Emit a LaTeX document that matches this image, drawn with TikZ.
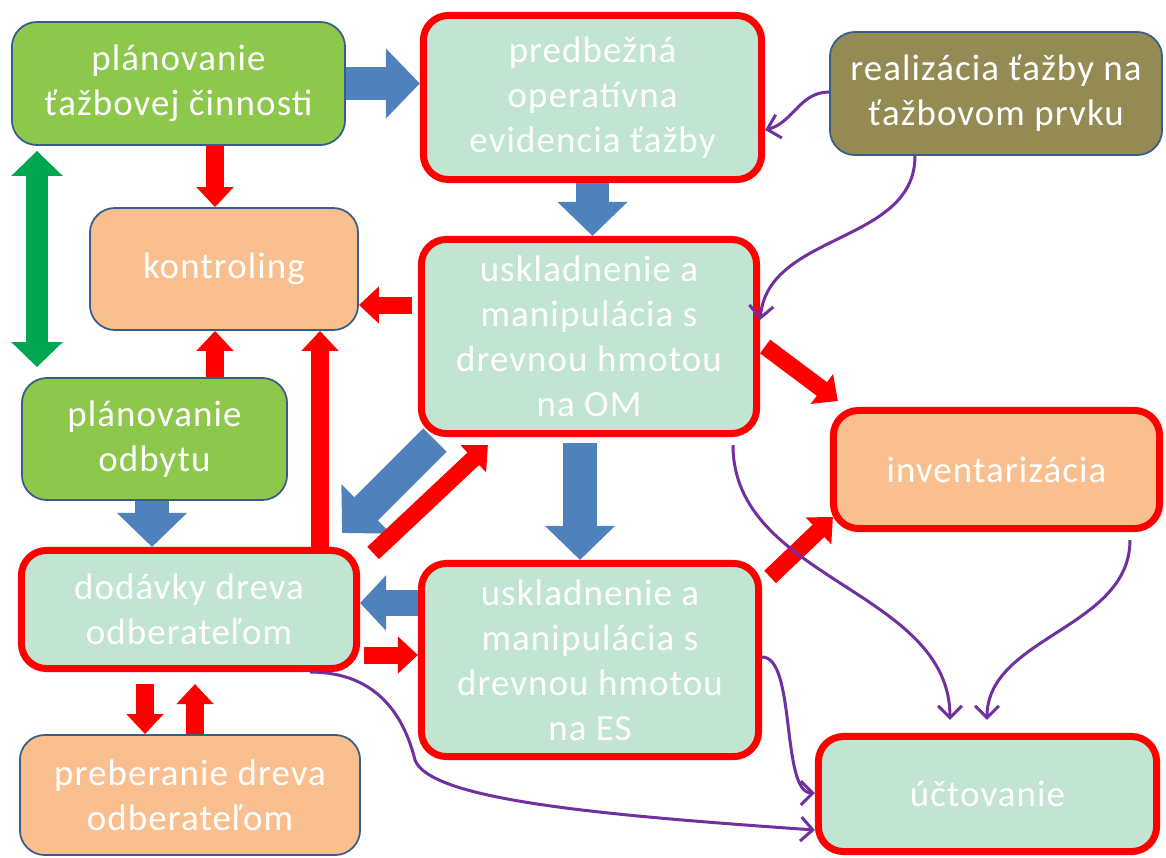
\documentclass[tikz,border=0pt]{standalone}
\usepackage{fontspec}
\setmainfont{Carlito}[LetterSpace=3]
\usetikzlibrary{arrows.meta}
\definecolor{leafgreen}{RGB}{141,199,76}
\definecolor{mint}{RGB}{194,229,211}
\definecolor{peach}{RGB}{249,191,142}
\definecolor{olive}{RGB}{148,138,84}
\definecolor{boxline}{RGB}{56,93,138}
\definecolor{arrowblue}{RGB}{79,129,189}
\definecolor{arrowgreen}{RGB}{0,166,81}
\definecolor{curveviolet}{RGB}{112,48,160}

\begin{document}
\begin{tikzpicture}[x=0.01cm, y=-0.01cm]
	\tikzstyle{every node} = [rounded corners=0.25cm, align=center, text=white, inner sep=0pt, font=\fontsize{10.5}{12.8}\selectfont]
	\tikzstyle{plain} = [draw=boxline, line width=0.5pt]
	\tikzstyle{marked} = [draw=red, line width=0.07cm]
	\tikzstyle{bigblue} = [draw=arrowblue, line width=0.33cm, -{Triangle[width=0.68cm, length=0.34cm]}]
	\tikzstyle{midblue} = [draw=arrowblue, line width=0.26cm, -{Triangle[width=0.54cm, length=0.26cm]}]
	\tikzstyle{redarrow} = [draw=red, line width=0.17cm, -{Triangle[width=0.36cm, length=0.2cm]}]
	\tikzstyle{greenarrow} = [draw=arrowgreen, line width=0.22cm, {Triangle[width=0.5cm, length=0.25cm]}-{Triangle[width=0.5cm, length=0.25cm]}]
	\tikzstyle{curve} = [draw=curveviolet, line width=0.03cm, -{Straight Barb[length=0.12cm, width=0.24cm]}]
	\useasboundingbox (0,0) rectangle (1166,857);
	\node[plain, fill=leafgreen, minimum width=3.33cm, minimum height=1.23cm] (PlanTazby) at (178.5, 83.5) {plánovanie\\ťažbovej činnosti};
	\node[marked, fill=mint, minimum width=3.38cm, minimum height=1.64cm] (Predbezna) at (592.5, 97.5) {predbežná\\operatívna\\evidencia ťažby};
	\node[plain, fill=olive, minimum width=3.32cm, minimum height=1.23cm] (Realizacia) at (996, 93.5) {realizácia ťažby na\\ťažbovom prvku};
	\node[plain, fill=peach, minimum width=2.68cm, minimum height=1.22cm] (Kontroling) at (224, 269) {kontroling};
	\node[marked, fill=mint, minimum width=3.35cm, minimum height=1.94cm] (SkladOM) at (589, 336.5) {uskladnenie a\\manipulácia s\\drevnou hmotou\\na OM};
	\node[plain, fill=leafgreen, minimum width=2.65cm, minimum height=1.22cm] (PlanOdbytu) at (154.5, 439) {plánovanie\\odbytu};
	\node[marked, fill=peach, minimum width=3.26cm, minimum height=1.18cm] (Inventar) at (996.5, 469.5) {inventarizácia};
	\node[marked, fill=mint, minimum width=3.35cm, minimum height=1.18cm] (Dodavky) at (189, 609.5) {dodávky dreva\\odberateľom};
	\node[marked, fill=mint, minimum width=3.37cm, minimum height=1.93cm] (SkladES) at (590, 660) {uskladnenie a\\manipulácia s\\drevnou hmotou\\na ES};
	\node[plain, fill=peach, minimum width=3.40cm, minimum height=1.20cm] (Preberanie) at (190, 795) {preberanie dreva\\odberateľom};
	\node[marked, fill=mint, minimum width=3.38cm, minimum height=1.15cm] (Uctovanie) at (987.5, 794) {účtovanie};
	\draw [bigblue] (PlanTazby.east) -- (PlanTazby.east -| Predbezna.west);
	\draw [redarrow] (PlanTazby.south -| 215,0) -- (Kontroling.north -| 215,0);
	\draw [greenarrow, shorten <=0.05cm, shorten >=0.1cm] (PlanTazby.south -| 37,0) -- (PlanOdbytu.north -| 37,0);
	\draw [bigblue] (Predbezna.south) -- (Predbezna.south |- SkladOM.north);
	\draw [redarrow, shorten <=0.06cm] (SkladOM.west |- 0,305) -- (Kontroling.east |- 0,305);
	\draw [redarrow] (PlanOdbytu.north -| 215,0) -- (Kontroling.south -| 215,0);
	\draw [redarrow] (Dodavky.north -| 320,0) -- (Kontroling.south -| 320,0);
	\draw [bigblue] (PlanOdbytu.south -| 152,0) -- (Dodavky.north -| 152,0);
	\draw [bigblue] ([shift={(17,3)}]SkladOM.south west) -- ([shift={(-18,-14)}]Dodavky.north east);
	\draw [redarrow] ([shift={(13,6)}]Dodavky.north east) -- ([shift={(70,8)}]SkladOM.south west);
	\draw [bigblue, shorten <=0.06cm] (SkladOM.south -| 580,0) -- (SkladES.north -| 580,0);
	\draw [midblue] (SkladES.west |- 0,603) -- (Dodavky.east |- 0,603);
	\draw [redarrow, shorten <=0.04cm] (Dodavky.east |- 0,655) -- (SkladES.west |- 0,655);
	\draw [redarrow] ([shift={(5,10)}]SkladOM.east) -- ([shift={(8,-6)}]Inventar.north west);
	\draw [redarrow] ([shift={(8,17)}]SkladES.north east) -- ([shift={(3,-15)}]Inventar.south west);
	\draw [redarrow, shorten <=0.12cm] (Dodavky.south -| 145,0) -- (Preberanie.north -| 145,0);
	\draw [redarrow, shorten >=0.12cm] (Preberanie.north -| 195,0) -- (Dodavky.south -| 195,0);
	\draw [curve] (Realizacia.west |- 0,92) to[out=180, in=15] (Predbezna.east |- 0,130);
	\draw [curve] (Realizacia.south -| 915,0) to[out=-90, in=85] (SkladOM.east |- 0,320);
	\draw [curve, shorten <=0.08cm, shorten >=0.13cm] (SkladOM.south -| 733,0) to[out=-90, in=90] (Uctovanie.north -| 950,0);
	\draw [curve, shorten <=0.08cm, shorten >=0.13cm] (Inventar.south -| 1130,0) to[out=-90, in=90] (Uctovanie.north -| 987,0);
	\draw [curve] (SkladES.east |- 0,657) to[out=0, in=180, looseness=0.6] (Uctovanie.west |- 0,793);
	\draw [curve] (Dodavky.south -| 310,0) .. controls (380,672) and (405,720) .. (415,760) .. controls (430,800) and (600,815) .. (Uctovanie.west |- 0,830);
\end{tikzpicture}
\end{document}
